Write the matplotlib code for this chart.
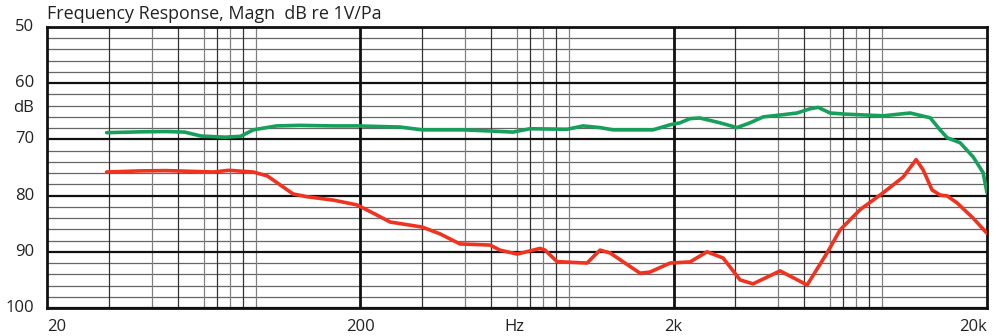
import matplotlib
matplotlib.use("Agg")
from matplotlib import pyplot as plt
from matplotlib.transforms import blended_transform_factory

# frequency response data (Hz, dB)
green_freq = [31, 40, 48, 55, 62, 74, 83, 91, 108, 128, 164, 195, 268, 315,
              425, 519, 614, 696, 914, 1028, 1164, 1282, 1718, 1948, 2096,
              2256, 2428, 2812, 3186, 3506, 3858, 4469, 4954, 5449, 5782,
              6315, 7048, 9324, 11368, 13166, 14172, 14918, 16416, 18056,
              19432, 20000]
green_db = [68.8, 68.65, 68.6, 68.7, 69.4, 69.6, 69.45, 68.3, 67.6, 67.5,
            67.6, 67.6, 67.8, 68.3, 68.3, 68.5, 68.7, 68.1, 68.2, 67.6, 67.9,
            68.3, 68.3, 67.4, 67.05, 66.3, 66.2, 67.05, 67.9, 67.05, 66.0,
            65.6, 65.3, 64.55, 64.3, 65.3, 65.5, 65.8, 65.3, 66.15, 68.3,
            69.7, 70.6, 73.1, 75.9, 79.5]

red_freq = [31, 40, 48, 59, 68, 76, 91, 101, 111, 122, 135, 164, 195, 223,
            249, 315, 359, 416, 519, 558, 633, 749, 777, 849, 1058, 1164,
            1253, 1562, 1682, 1948, 2256, 2556, 2876, 3258, 3584, 4372, 5333,
            6176, 6794, 7872, 9324, 10796, 11876, 12504, 13360, 14172, 14918,
            16054, 18056, 20000]
red_db = [75.8, 75.6, 75.55, 75.7, 75.8, 75.5, 75.8, 76.5, 78.1, 79.7, 80.2,
          80.8, 81.65, 83.3, 84.7, 85.6, 86.8, 88.6, 88.8, 89.7, 90.4, 89.4,
          89.7, 91.75, 92.0, 89.7, 90.2, 93.8, 93.6, 92.0, 91.8, 90.0, 91.1,
          95.0, 95.7, 93.4, 95.9, 90.2, 86.1, 82.5, 79.5, 76.7, 73.6, 75.4,
          79.0, 79.9, 80.05, 81.3, 84.0, 86.7]

y_ticks = [50, 60, 70, 80, 90, 100]
x_labels = [(20, "20", "left"), (200, "200", "center"), (620, "Hz", "center"),
            (2000, "2k", "center"), (20000, "20k", "right")]
title = "Frequency Response, Magn  dB re 1V/Pa"

plt.rcParams['font.family'] = ['Open Sans', 'DejaVu Sans']

fig = plt.figure(figsize=(9.99, 3.36), dpi=100)
ax = fig.add_axes([47 / 999, 1 - 308 / 336, 940 / 999, 281 / 336])
ax.set_xscale('log')
ax.set_xlim(20, 20000)
ax.set_ylim(100, 50)

# horizontal grid: thin every 2 dB, thick every 10 dB
for v in range(50, 101, 2):
    if v % 10:
        ax.axhline(v, color='#666666', lw=0.9, zorder=1)
for v in y_ticks:
    ax.axhline(v, color='#111111', lw=1.6, zorder=2)

# vertical grid (chart's own stylised spacing inside each decade)
fracs = [0.197, 0.334, 0.417, 0.5, 0.542, 0.583, 0.625, 0.666]
for dec in [20, 200, 2000]:
    for i, fr in enumerate(fracs):
        col = '#333333' if i % 2 == 0 else '#808080'
        ax.axvline(dec * 10 ** fr, color=col, lw=0.9, zorder=1)
for f in [200, 2000]:
    ax.axvline(f, color='#111111', lw=2.0, zorder=2)

for s in ax.spines.values():
    s.set_linewidth(2.0)
    s.set_color('#111111')

ax.plot(green_freq, green_db, color='#17a05c', lw=2.6, zorder=5,
        solid_joinstyle='round', solid_capstyle='round')
ax.plot(red_freq, red_db, color='#f0321e', lw=2.6, zorder=5,
        solid_joinstyle='round', solid_capstyle='round')

ax.set_xticks([])
ax.set_yticks([])
ax.minorticks_off()

# y labels
ytr = blended_transform_factory(ax.transAxes, ax.transData)
for v in y_ticks:
    ax.text(-13 / 940, v, str(v), transform=ytr,
            ha='right', va='center', fontsize=12, color='#222222')
ax.text(-13 / 940, 64.4, "dB", transform=ytr,
        ha='right', va='center', fontsize=12, color='#222222')

# x labels
tr = blended_transform_factory(ax.transData, ax.transAxes)
for f, lab, ha in x_labels:
    ax.text(f, -19 / 281, lab, transform=tr, ha=ha, va='center',
            fontsize=12, color='#222222')

fig.text(47 / 999, 1 - 19 / 336, title, ha='left', va='baseline',
         fontsize=12.9, color='#222222')

fig.savefig("out.png", dpi=100)
